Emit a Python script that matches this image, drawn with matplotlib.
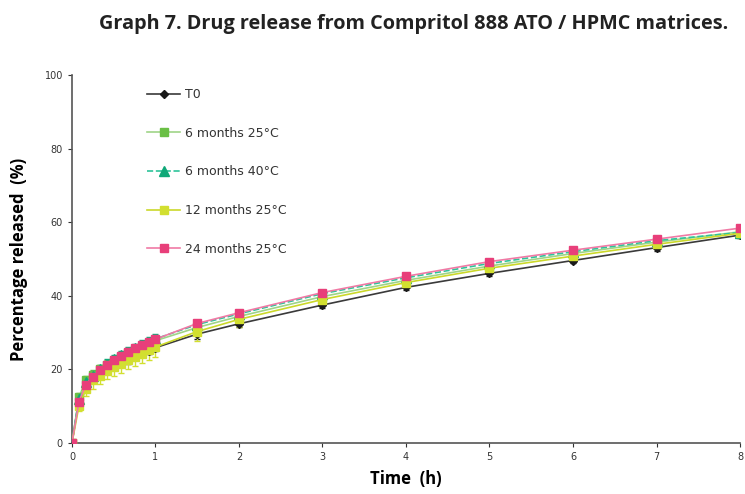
import numpy as np
import matplotlib.pyplot as plt

# Sampling times (h)
times = [0, 1/12, 2/12, 3/12, 4/12, 5/12, 6/12, 7/12, 8/12, 9/12, 10/12, 11/12, 1.0,
         1.5, 2, 3, 4, 5, 6, 7, 8]

# Percentage released for each storage condition
t0 = [0, 12.0, 15.5, 17.5, 18.7, 19.8, 20.8, 21.7, 22.6, 23.5, 24.3, 25.1, 25.9,
      29.6, 32.4, 37.5, 42.3, 46.1, 49.6, 53.1, 56.5]
m6_25 = [0, 12.5, 17.0, 18.5, 20.0, 21.3, 22.4, 23.4, 24.4, 25.3, 26.2, 27.0, 27.8,
         31.4, 34.4, 39.8, 44.2, 48.1, 51.5, 54.6, 57.4]
m6_40 = [0, 12.0, 16.5, 18.3, 20.0, 21.5, 22.7, 23.8, 24.8, 25.8, 26.7, 27.5, 28.3,
         32.2, 35.1, 40.6, 44.9, 48.8, 52.0, 55.0, 57.2]
m12_25 = [0, 10.0, 14.6, 17.0, 18.3, 19.6, 20.6, 21.6, 22.5, 23.4, 24.3, 25.2, 26.1,
          30.3, 33.6, 39.0, 43.6, 47.5, 50.8, 54.0, 57.0]
m24_25 = [0, 11.2, 15.9, 18.0, 19.8, 21.3, 22.5, 23.6, 24.7, 25.7, 26.6, 27.4, 28.2,
          32.5, 35.4, 40.9, 45.3, 49.3, 52.4, 55.4, 58.4]

# Standard deviations (approx.)
sd_t0 = [0, 1.0, 1.0, 1.0, 1.0, 1.0, 1.0, 1.0, 1.0, 1.0, 1.0, 1.0, 1.0,
         1.2, 1.0, 0.8, 0.8, 0.8, 0.8, 0.8, 0.8]
sd_m6_25 = [0, 1.2, 1.3, 1.3, 1.3, 1.3, 1.3, 1.3, 1.3, 1.3, 1.3, 1.3, 1.3,
            1.3, 1.2, 1.0, 1.0, 1.0, 1.0, 1.0, 1.0]
sd_m6_40 = [0, 1.0, 1.2, 1.2, 1.2, 1.2, 1.2, 1.2, 1.2, 1.2, 1.2, 1.2, 1.2,
            1.2, 1.0, 1.0, 1.0, 1.0, 1.0, 1.0, 1.0]
sd_m12_25 = [0, 1.2, 1.8, 2.2, 2.3, 2.3, 2.4, 2.5, 2.5, 2.5, 2.6, 2.6, 2.7,
             2.5, 2.0, 1.3, 1.2, 1.2, 1.2, 1.2, 1.2]
sd_m24_25 = [0, 1.0, 1.0, 1.0, 1.0, 1.0, 1.0, 1.0, 1.0, 1.0, 1.0, 1.0, 1.0,
             1.0, 0.8, 0.8, 0.8, 0.8, 0.8, 0.8, 0.8]

labels = ['T0', '6 months 25°C', '6 months 40°C', '12 months 25°C', '24 months 25°C']

plt.rcParams['font.family'] = ['DejaVu Sans']

fig = plt.figure(figsize=(7.45, 4.94), dpi=100)
ax = fig.add_axes([0.0966, 0.1032, 0.8967, 0.7449])

series = [
    # values, sd, line colour, marker colour, marker, linestyle, marker size
    (t0, sd_t0, '#3a3a3a', '#1a1a1a', 'D', '-', 4),
    (m6_25, sd_m6_25, '#9fd487', '#6abf45', 's', '-', 6),
    (m6_40, sd_m6_40, '#2ec49a', '#0fa878', '^', '--', 6.5),
    (m12_25, sd_m12_25, '#cbd82a', '#d2df30', 's', '-', 6),
    (m24_25, sd_m24_25, '#f07aa5', '#e83f7a', 's', '-', 6),
]

for (vals, sd, lc, mc, mk, ls, ms), lab in zip(series, labels):
    ax.errorbar(times, vals, yerr=sd, fmt='none', ecolor=mc, elinewidth=1,
                capsize=2.5, capthick=1, zorder=2)
    ax.plot(times, vals, color=lc, linestyle=ls, linewidth=1.2, marker=mk,
            markersize=ms, markerfacecolor=mc, markeredgecolor=mc,
            label=lab, zorder=3)

ax.set_xlim(0, 8)
ax.set_ylim(0, 100)
ax.set_xticks(range(0, 9))
ax.set_yticks(range(0, 101, 20))
ax.tick_params(labelsize=7, colors='#333333', length=3, width=0.8)
for s in ['top', 'right']:
    ax.spines[s].set_visible(False)
for s in ['left', 'bottom']:
    ax.spines[s].set_color('#555555')
    ax.spines[s].set_linewidth(1.2)

ax.set_xlabel('Time  (h)', fontsize=12, fontweight='bold', labelpad=6,
              family=['Open Sans', 'DejaVu Sans'])
ax.set_ylabel('Percentage released  (%)', fontsize=12, fontweight='bold', labelpad=12,
              family=['Open Sans', 'DejaVu Sans'])

leg = ax.legend(loc='upper left', bbox_to_anchor=(0.095, 0.995), frameon=False,
                fontsize=9, labelspacing=2.05, handlelength=2.7, handletextpad=0.4)
for t in leg.get_texts():
    t.set_color('#333333')

fig.text(0.978, 0.952, 'Graph 7. Drug release from Compritol 888 ATO / HPMC matrices.',
         ha='right', va='center', fontsize=14.3, fontweight='bold', color='#222222',
         family=['Open Sans', 'DejaVu Sans'])

fig.savefig('out.png', dpi=100)
